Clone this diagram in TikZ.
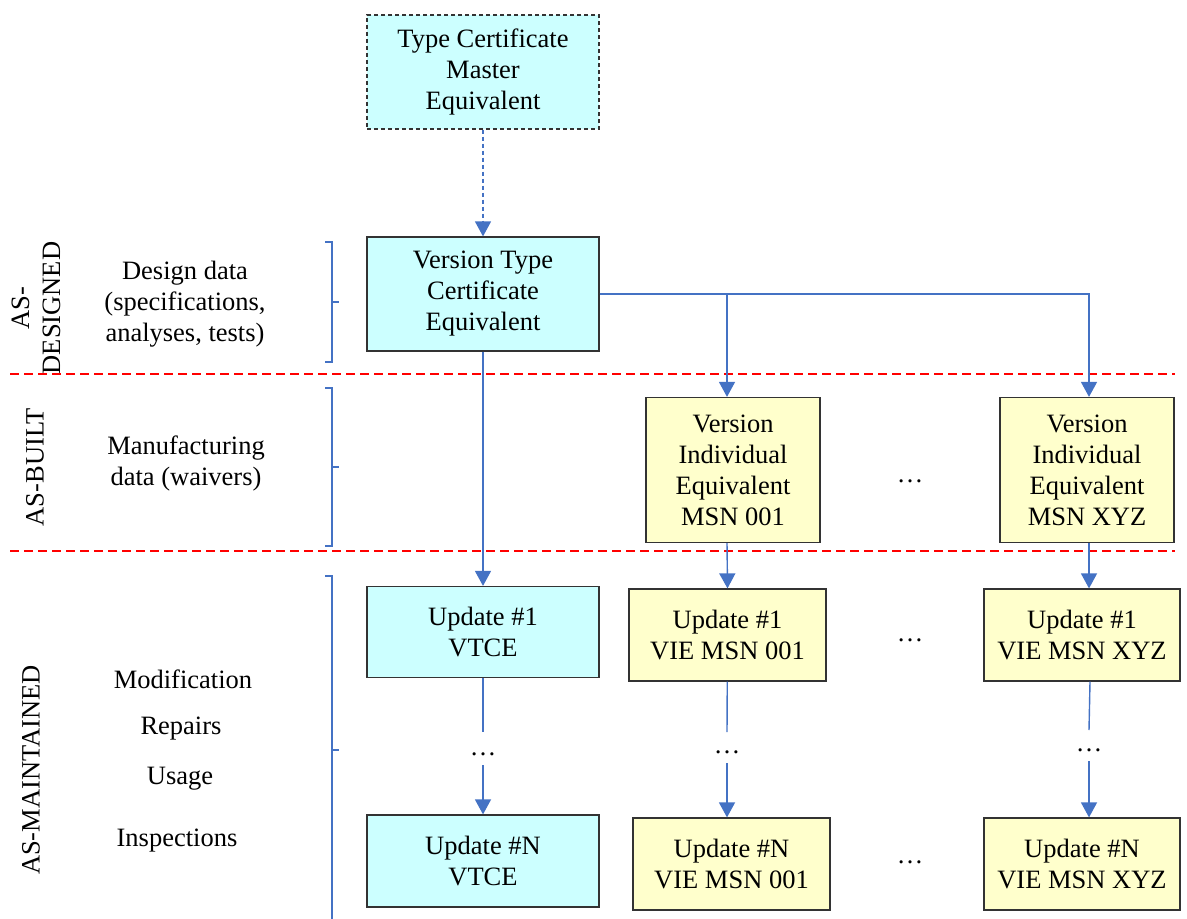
\documentclass[tikz,border=0pt]{standalone}
\usepackage{fontspec}
\setmainfont{Liberation Serif}[Ligatures=TeX]
\newfontfamily\diagramfont{Liberation Serif}
\usetikzlibrary{arrows.meta,calc,positioning}
\definecolor{designcyan}{HTML}{CCFFFF}
\definecolor{builtyellow}{HTML}{FFFFCC}
\definecolor{linkblue}{HTML}{4472C4}
\tikzset{
	every node/.style={
		font=\diagramfont\fontsize{13.25}{15.5}\selectfont
	},
	version/.style={
		shape=rectangle,
		draw=black!80,
		line width=0.6pt,
		align=center,
		inner sep=0pt
	},
	designed/.style={
		version,
		fill=designcyan
	},
	individual/.style={
		version,
		fill=builtyellow
	},
	phase/.style={
		rotate=90,
		align=center
	},
	data/.style={
		align=center
	},
	link/.style={
		draw=linkblue,
		line width=0.7pt
	},
	flow/.style={
		link,
		-{Triangle[width=8pt,length=7.5pt]}
	},
	boundary/.style={
		draw=red,
		line width=0.75pt,
		dash pattern=on 4.5pt off 2.5pt
	}
}

\begin{document}
\begin{tikzpicture}[x=0.5pt,y=-0.5pt]
  \useasboundingbox (0,0) rectangle (1187,919);

  \node[designed, dash pattern=on 2pt off 1.5pt, minimum width=116pt, minimum height=57pt] (tcme) at (483,72) {Type Certificate\\Master\\Equivalent};
  \node[designed, minimum width=116pt, minimum height=57pt] (vtce) at (483,294) {Version Type\\Certificate\\Equivalent};
  \node[individual, minimum width=87pt, minimum height=72.5pt] (vie1) at (733,470) {Version\\Individual\\Equivalent\\MSN 001};
  \node[individual, minimum width=87pt, minimum height=72.5pt] (viex) at (1087,470) {Version\\Individual\\Equivalent\\MSN XYZ};
  \node[designed, minimum width=116pt, minimum height=45.5pt] (upd1v) at (483,632) {Update \#1\\VTCE};
  \node[individual, minimum width=98.5pt, minimum height=46pt] (upd1a) at (727.5,635) {Update \#1\\VIE MSN 001};
  \node[individual, minimum width=98pt, minimum height=46pt] (upd1x) at (1082,635) {Update \#1\\VIE MSN XYZ};
  \node[designed, minimum width=116pt, minimum height=46pt] (updNv) at (483,861) {Update \#N\\VTCE};
  \node[individual, minimum width=98.5pt, minimum height=46pt] (updNa) at (731.5,864) {Update \#N\\VIE MSN 001};
  \node[individual, minimum width=98pt, minimum height=46pt] (updNx) at (1082,864) {Update \#N\\VIE MSN XYZ};

  \node (dotsv) at (483,754) {\ldots};
  \node (dotsa) at (727,752) {\ldots};
  \node (dotsx) at (1089,750) {\ldots};
  \node (gapbuilt) at (910,481) {\ldots};
  \node (gapfirst) at (910,640) {\ldots};
  \node (gaplast) at (910,862) {\ldots};

  \node[phase] (designedlabel) at (36,308) {AS-\\DESIGNED};
  \node[phase] (builtlabel) at (35,467) {AS-BUILT};
  \node[phase] (maintainedlabel) at (31,770) {AS-MAINTAINED};

  \node[data] (designdata) at (185,304) {Design data\\(specifications,\\analyses, tests)};
  \node[data] (mfgdata) at (186,463) {Manufacturing\\data (waivers)};
  \node (modif) at (183,679) {Modification};
  \node (repairs) at (181,729) {Repairs};
  \node (usage) at (180,779) {Usage};
  \node (inspect) at (177,841) {Inspections};

  \draw[boundary] (10,374) -- (1175,374);
  \draw[boundary] (10,551) -- (1175,551);

  \foreach \top/\mid/\bot in {242/302/362, 388/467/546, 576/750/930}
    \draw[link, line width=0.8pt] (325,\top) -- (332,\top) -- (332,\bot) -- (325,\bot)
      (332,\mid) -- (339,\mid);

  \draw[flow, dash pattern=on 2pt off 1.5pt] (tcme) -- (vtce);
  \draw[flow] (vtce.east) -| ([xshift=-3pt]vie1.north);
  \draw[flow] (vtce.east) -| ([xshift=1pt]viex.north);
  \draw[flow] (vtce) -- (upd1v);
  \draw[flow] ([xshift=-3pt]vie1.south) -- (upd1a.north);
  \draw[flow] ([xshift=1pt]viex.south) -- ([xshift=1pt]viex.south |- upd1x.north);

  \draw[link] (upd1v) -- ([yshift=11pt]dotsv.center);
  \draw[flow] ([yshift=-5.5pt]dotsv.center) -- (updNv);
  \draw[link] (upd1a) -- ([yshift=10pt]dotsa.center);
  \draw[flow] ([yshift=-5.5pt]dotsa.center) -- (dotsa.center |- updNa.north);
  \draw[link] ([xshift=4pt]upd1x.south) -- ([yshift=10pt]dotsx.center);
  \draw[flow] ([yshift=-5.5pt]dotsx.center) -- (dotsx.center |- updNx.north);
\end{tikzpicture}
\end{document}
